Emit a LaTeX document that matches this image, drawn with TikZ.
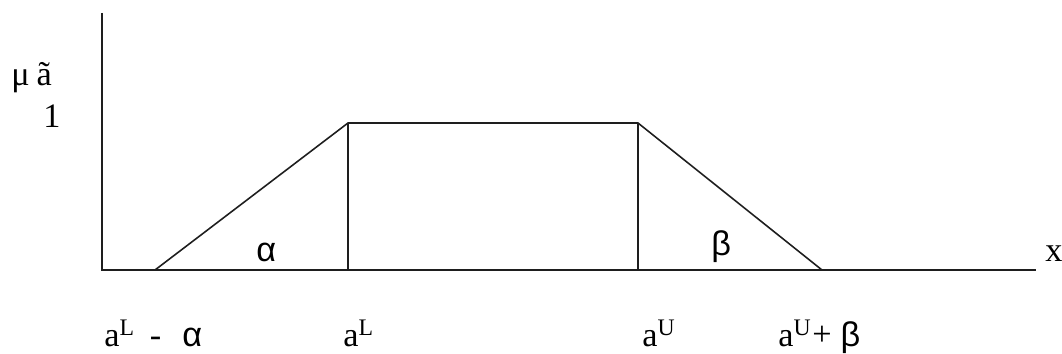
\documentclass[tikz,border=0pt]{standalone}
\usepackage{fontspec}
\setmainfont{Liberation Serif}
\newfontfamily\greekfont{Liberation Sans}
\usepackage{xcolor}
\usetikzlibrary{positioning}
\definecolor{axisgray}{RGB}{30,30,30}
\newcommand{\supmark}[1]{\raisebox{6.5pt}{\fontsize{13.5}{16}\selectfont #1}}
\tikzset{
  axis-line/.style={draw=axisgray, line width=1.2pt},
  graph-line/.style={draw=axisgray, line width=0.9pt, line join=miter},
  point-label/.style={font=\fontsize{19.5}{23}\selectfont, inner sep=0pt, anchor=base west},
  greek-label/.style={font=\fontsize{19.5}{23}\selectfont\greekfont, inner sep=0pt, anchor=base west}
}

\begin{document}
\begin{tikzpicture}[x=0.02cm, y=-0.02cm]
\useasboundingbox (0,0) rectangle (1062,354);

% Axes
\coordinate (origin) at (102,270);
\coordinate (y-top) at (102,13);
\coordinate (x-end) at (1036,270);
\draw[axis-line] (y-top) -- (origin) -- (x-end);

% Trapezoid corners
\coordinate (foot-left) at (155,270);
\coordinate (top-left) at (348,123);
\coordinate (top-right) at (638,123);
\coordinate (foot-right) at (822,270);
\coordinate (base-left) at (348,270);
\coordinate (base-right) at (638,270);

\draw[graph-line] (foot-left) -- (top-left) -- (top-right) -- (foot-right);
\draw[graph-line] (top-left) -- (base-left);
\draw[graph-line] (top-right) -- (base-right);

% Membership axis labels
\node[point-label] (mu-label) at (11,86) {μ\hspace{4pt}ã};
\node[point-label] (one-label) at (43,128) {1};
\node[point-label] (x-label) at (1045,262) {x};

% Spread labels
\node[greek-label] (alpha-label) at (256,262) {α};
\node[greek-label] (beta-label) at (711,256) {β};

% Points on the x axis
\node[point-label] (aL-minus) at (104,347) {a\supmark{L}\hspace{9pt}-\hspace{12pt}{\greekfont α}};
\node[point-label] (aL) at (343,347) {a\supmark{L}};
\node[point-label] (aU) at (642,347) {a\supmark{U}};
\node[point-label] (aU-plus) at (778,347) {a\supmark{U}\hspace{1pt}\raisebox{1pt}{+}\hspace{5pt}{\greekfont β}};
\end{tikzpicture}
\end{document}
